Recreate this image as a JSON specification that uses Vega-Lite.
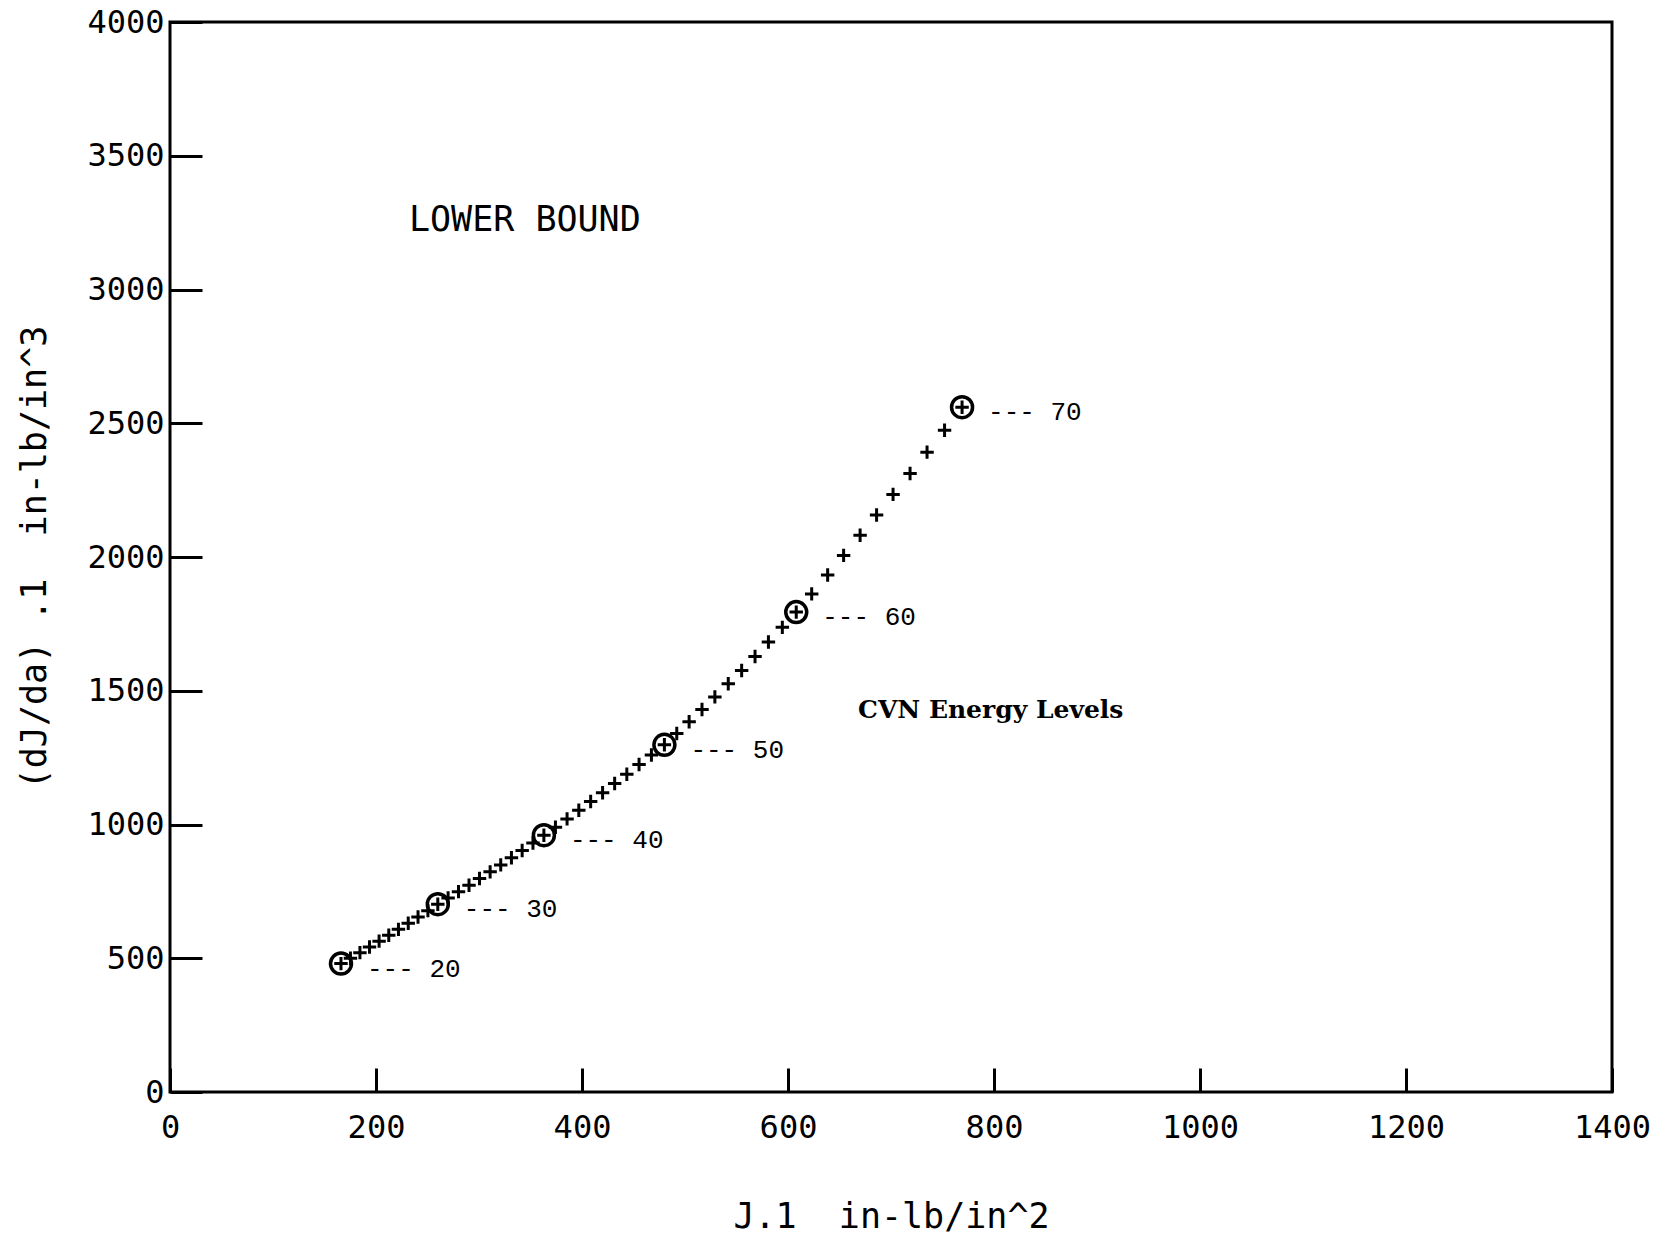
{
  "$schema": "https://vega.github.io/schema/vega-lite/v6.json",
  "width": 1442,
  "height": 1070,
  "autosize": {"type": "none"},
  "padding": {"left": 170, "top": 22, "right": 54, "bottom": 142},
  "background": "white",
  "config": {
    "view": {"stroke": "black", "strokeWidth": 3},
    "axis": {
      "grid": false,
      "domain": false,
      "tickColor": "black",
      "tickWidth": 3,
      "labelColor": "black",
      "labelFont": "DejaVu Sans Mono",
      "labelFontSize": 32,
      "labelFlush": false,
      "labelOverlap": false,
      "format": "d",
      "titleFont": "DejaVu Sans Mono",
      "titleFontSize": 35,
      "titleFontWeight": "normal",
      "titleColor": "black"
    }
  },
  "datasets": {
    "curve": [
      {"cvn": 20, "J": 166, "dJda": 480},
      {"cvn": 21, "J": 175.2, "dJda": 500},
      {"cvn": 22, "J": 184.4, "dJda": 521},
      {"cvn": 23, "J": 193.7, "dJda": 542},
      {"cvn": 24, "J": 203.0, "dJda": 564},
      {"cvn": 25, "J": 212.4, "dJda": 586},
      {"cvn": 26, "J": 221.8, "dJda": 608},
      {"cvn": 27, "J": 231.3, "dJda": 631},
      {"cvn": 28, "J": 240.8, "dJda": 654},
      {"cvn": 29, "J": 250.4, "dJda": 678},
      {"cvn": 30, "J": 260, "dJda": 702},
      {"cvn": 31, "J": 270, "dJda": 725},
      {"cvn": 32, "J": 280.1, "dJda": 749},
      {"cvn": 33, "J": 290.3, "dJda": 773},
      {"cvn": 34, "J": 300.5, "dJda": 798},
      {"cvn": 35, "J": 310.8, "dJda": 823},
      {"cvn": 36, "J": 321.1, "dJda": 849},
      {"cvn": 37, "J": 331.5, "dJda": 876},
      {"cvn": 38, "J": 341.9, "dJda": 903},
      {"cvn": 39, "J": 352.4, "dJda": 931},
      {"cvn": 40, "J": 363, "dJda": 960},
      {"cvn": 41, "J": 374.2, "dJda": 990},
      {"cvn": 42, "J": 385.5, "dJda": 1021},
      {"cvn": 43, "J": 396.9, "dJda": 1053},
      {"cvn": 44, "J": 408.4, "dJda": 1086},
      {"cvn": 45, "J": 420.0, "dJda": 1119},
      {"cvn": 46, "J": 431.7, "dJda": 1153},
      {"cvn": 47, "J": 443.5, "dJda": 1188},
      {"cvn": 48, "J": 455.4, "dJda": 1224},
      {"cvn": 49, "J": 467.4, "dJda": 1260},
      {"cvn": 50, "J": 480, "dJda": 1298},
      {"cvn": 51, "J": 492, "dJda": 1340},
      {"cvn": 52, "J": 504, "dJda": 1384},
      {"cvn": 53, "J": 516.5, "dJda": 1430},
      {"cvn": 54, "J": 529, "dJda": 1477},
      {"cvn": 55, "J": 542, "dJda": 1526},
      {"cvn": 56, "J": 555, "dJda": 1576},
      {"cvn": 57, "J": 568, "dJda": 1628},
      {"cvn": 58, "J": 581, "dJda": 1682},
      {"cvn": 59, "J": 594.5, "dJda": 1737},
      {"cvn": 60, "J": 608, "dJda": 1794},
      {"cvn": 61, "J": 623, "dJda": 1862},
      {"cvn": 62, "J": 638.5, "dJda": 1933},
      {"cvn": 63, "J": 654, "dJda": 2006},
      {"cvn": 64, "J": 670, "dJda": 2081},
      {"cvn": 65, "J": 686, "dJda": 2157},
      {"cvn": 66, "J": 702, "dJda": 2234},
      {"cvn": 67, "J": 718.5, "dJda": 2312},
      {"cvn": 68, "J": 735, "dJda": 2392},
      {"cvn": 69, "J": 752, "dJda": 2474},
      {"cvn": 70, "J": 769, "dJda": 2560}
    ],
    "levels": [
      {"cvn": 20, "J": 166, "dJda": 480, "label": "--- 20"},
      {"cvn": 30, "J": 260, "dJda": 702, "label": "--- 30"},
      {"cvn": 40, "J": 363, "dJda": 960, "label": "--- 40"},
      {"cvn": 50, "J": 480, "dJda": 1298, "label": "--- 50"},
      {"cvn": 60, "J": 608, "dJda": 1794, "label": "--- 60"},
      {"cvn": 70, "J": 769, "dJda": 2560, "label": "--- 70"}
    ],
    "notes": [
      {"J": 232, "dJda": 3260, "text": "LOWER BOUND", "kind": "plot"},
      {"J": 668, "dJda": 1428, "text": "CVN Energy Levels", "kind": "type"}
    ]
  },
  "layer": [
    {
      "data": {"name": "curve"},
      "mark": {
        "type": "point",
        "shape": "M-1,0L1,0M0,-1L0,1",
        "filled": false,
        "stroke": "black",
        "strokeWidth": 3,
        "size": 180,
        "opacity": 1
      },
      "encoding": {
        "x": {
          "field": "J",
          "type": "quantitative",
          "scale": {"domain": [0, 1400], "nice": false, "zero": false},
          "axis": {
            "values": [0, 200, 400, 600, 800, 1000, 1200, 1400],
            "tickSize": -24,
            "labelPadding": 44,
            "labelBaseline": "top",
            "title": "J.1\u00a0\u00a0in-lb/in^2",
            "titlePadding": 56
          }
        },
        "y": {
          "field": "dJda",
          "type": "quantitative",
          "scale": {"domain": [0, 4000], "nice": false, "zero": false},
          "axis": {
            "values": [0, 500, 1000, 1500, 2000, 2500, 3000, 3500, 4000],
            "tickSize": -32,
            "labelPadding": 38,
            "title": "(dJ/da)\u00a0.1\u00a0\u00a0in-lb/in^3",
            "titlePadding": 34
          }
        }
      }
    },
    {
      "data": {"name": "levels"},
      "mark": {
        "type": "point",
        "shape": "circle",
        "filled": false,
        "stroke": "black",
        "strokeWidth": 3.5,
        "size": 440,
        "opacity": 1
      },
      "encoding": {
        "x": {"field": "J", "type": "quantitative"},
        "y": {"field": "dJda", "type": "quantitative"}
      }
    },
    {
      "data": {"name": "levels"},
      "mark": {
        "type": "text",
        "align": "left",
        "baseline": "middle",
        "dx": 26,
        "dy": 5,
        "font": "Liberation Mono",
        "fontSize": 26,
        "color": "black"
      },
      "encoding": {
        "x": {"field": "J", "type": "quantitative"},
        "y": {"field": "dJda", "type": "quantitative"},
        "text": {"field": "label"}
      }
    },
    {
      "data": {"name": "notes"},
      "transform": [{"filter": "datum.kind == 'plot'"}],
      "mark": {
        "type": "text",
        "align": "left",
        "baseline": "middle",
        "font": "DejaVu Sans Mono",
        "fontSize": 35,
        "color": "black"
      },
      "encoding": {
        "x": {"field": "J", "type": "quantitative"},
        "y": {"field": "dJda", "type": "quantitative"},
        "text": {"field": "text"}
      }
    },
    {
      "data": {"name": "notes"},
      "transform": [{"filter": "datum.kind == 'type'"}],
      "mark": {
        "type": "text",
        "align": "left",
        "baseline": "middle",
        "font": "DejaVu Serif",
        "fontSize": 25,
        "fontWeight": "bold",
        "color": "black"
      },
      "encoding": {
        "x": {"field": "J", "type": "quantitative"},
        "y": {"field": "dJda", "type": "quantitative"},
        "text": {"field": "text"}
      }
    }
  ]
}
